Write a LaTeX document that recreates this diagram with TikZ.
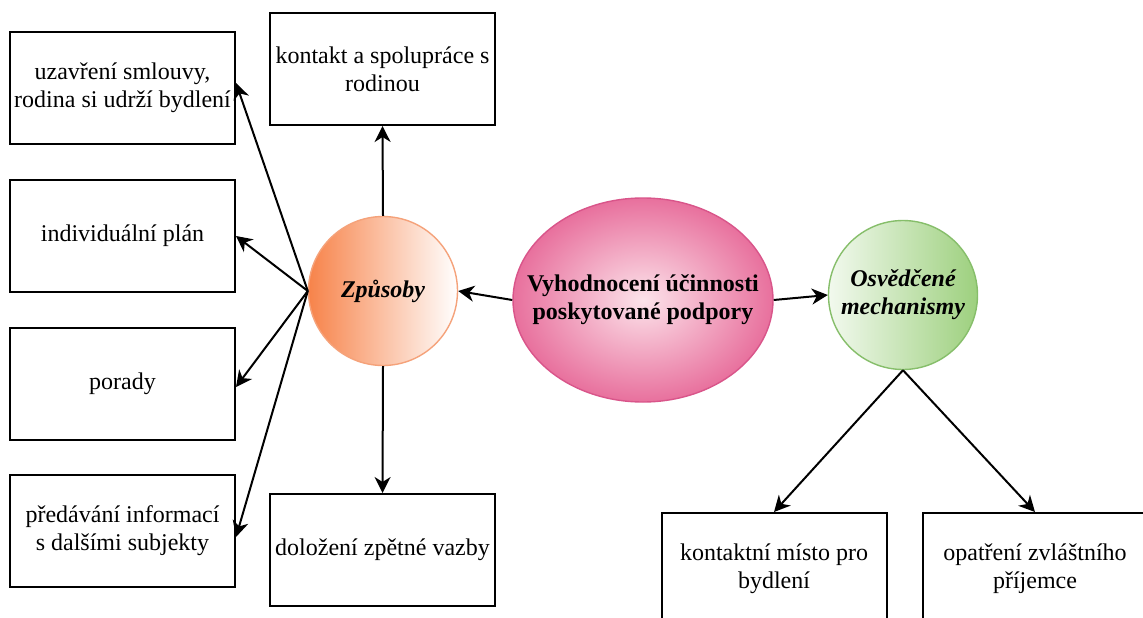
\documentclass[tikz,border=0pt]{standalone}
\usepackage{fontspec}
\setmainfont{Liberation Serif}
\usetikzlibrary{arrows.meta,shapes.geometric}
\definecolor{zporange}{HTML}{F7834A}
\definecolor{zpborder}{HTML}{F5A27A}
\definecolor{elouter}{HTML}{E8709D}
\definecolor{elinner}{HTML}{FCE3EA}
\definecolor{elborder}{HTML}{D9558A}
\definecolor{osgreen}{HTML}{9DD07E}
\definecolor{oslight}{HTML}{F2F9EE}
\definecolor{osborder}{HTML}{86BE6A}
\begin{document}
\begin{tikzpicture}[x=1pt,y=-1pt,
  box/.style={draw, line width=2pt, minimum width=225pt, minimum height=112pt, align=center, inner sep=1pt, font=\fontsize{24}{28}\selectfont},
  arr/.style={-{Stealth[length=16pt,width=16pt,inset=5pt]}, line width=2pt},
  hub/.style={circle, minimum size=149pt, inner sep=0pt, line width=1.4pt, align=center, font=\fontsize{24}{28}\selectfont\bfseries\itshape},
  hubtext/.style={align=center, inner sep=0pt, font=\fontsize{24}{28}\selectfont\bfseries}
]
\useasboundingbox (0,0) rectangle (1143,618);
\clip (0,0) rectangle (1143,618);
\fill[white] (0,0) rectangle (1143,618);

\node[box] (uz) at (122.5,88) {uzavření smlouvy,\\rodina si udrží bydlení};
\node[box] (kt) at (382.5,69) {kontakt a spolupráce s\\rodinou};
\node[box] (ind) at (122.5,236) {individuální plán};
\node[box] (por) at (122.5,384) {porady};
\node[box] (pred) at (122.5,531) {předávání informací\\ s dalšími subjekty};
\node[box] (dol) at (382.5,550) {doložení zpětné vazby};
\node[box] (km) at (774,569) {kontaktní místo pro\\bydlení};
\node[box] (op) at (1035,569) {opatření zvláštního\\příjemce};

\node[hub, draw=zpborder, left color=zporange, right color=white] (zp) at (383,291) {Způsoby};
\node[ellipse, draw=elborder, line width=1.4pt, inner color=elinner, outer color=elouter, minimum width=260pt, minimum height=204pt, inner sep=0pt] (el) at (643,300) {};
\node[hubtext] (elt) at (el.center) {Vyhodnocení účinnosti\\poskytované podpory};
\node[hub, draw=osborder, left color=oslight, right color=osgreen] (os) at (903,295) {Osvědčené\\mechanismy};

\draw[arr] (el.west) -- (zp.east);
\draw[arr] (el.east) -- (os.west);
\draw[arr] (zp.north) -- (kt.south);
\draw[arr] (zp.south) -- (dol.north);
\draw[arr] (zp.west) -- ([yshift=5pt]uz.east);
\draw[arr] (zp.west) -- (ind.east);
\draw[arr] (zp.west) -- ([yshift=-3pt]por.east);
\draw[arr] (zp.west) -- ([yshift=-6pt]pred.east);
\draw[arr] (os.south) -- (km.north);
\draw[arr] (os.south) -- (op.north);
\end{tikzpicture}
\end{document}
